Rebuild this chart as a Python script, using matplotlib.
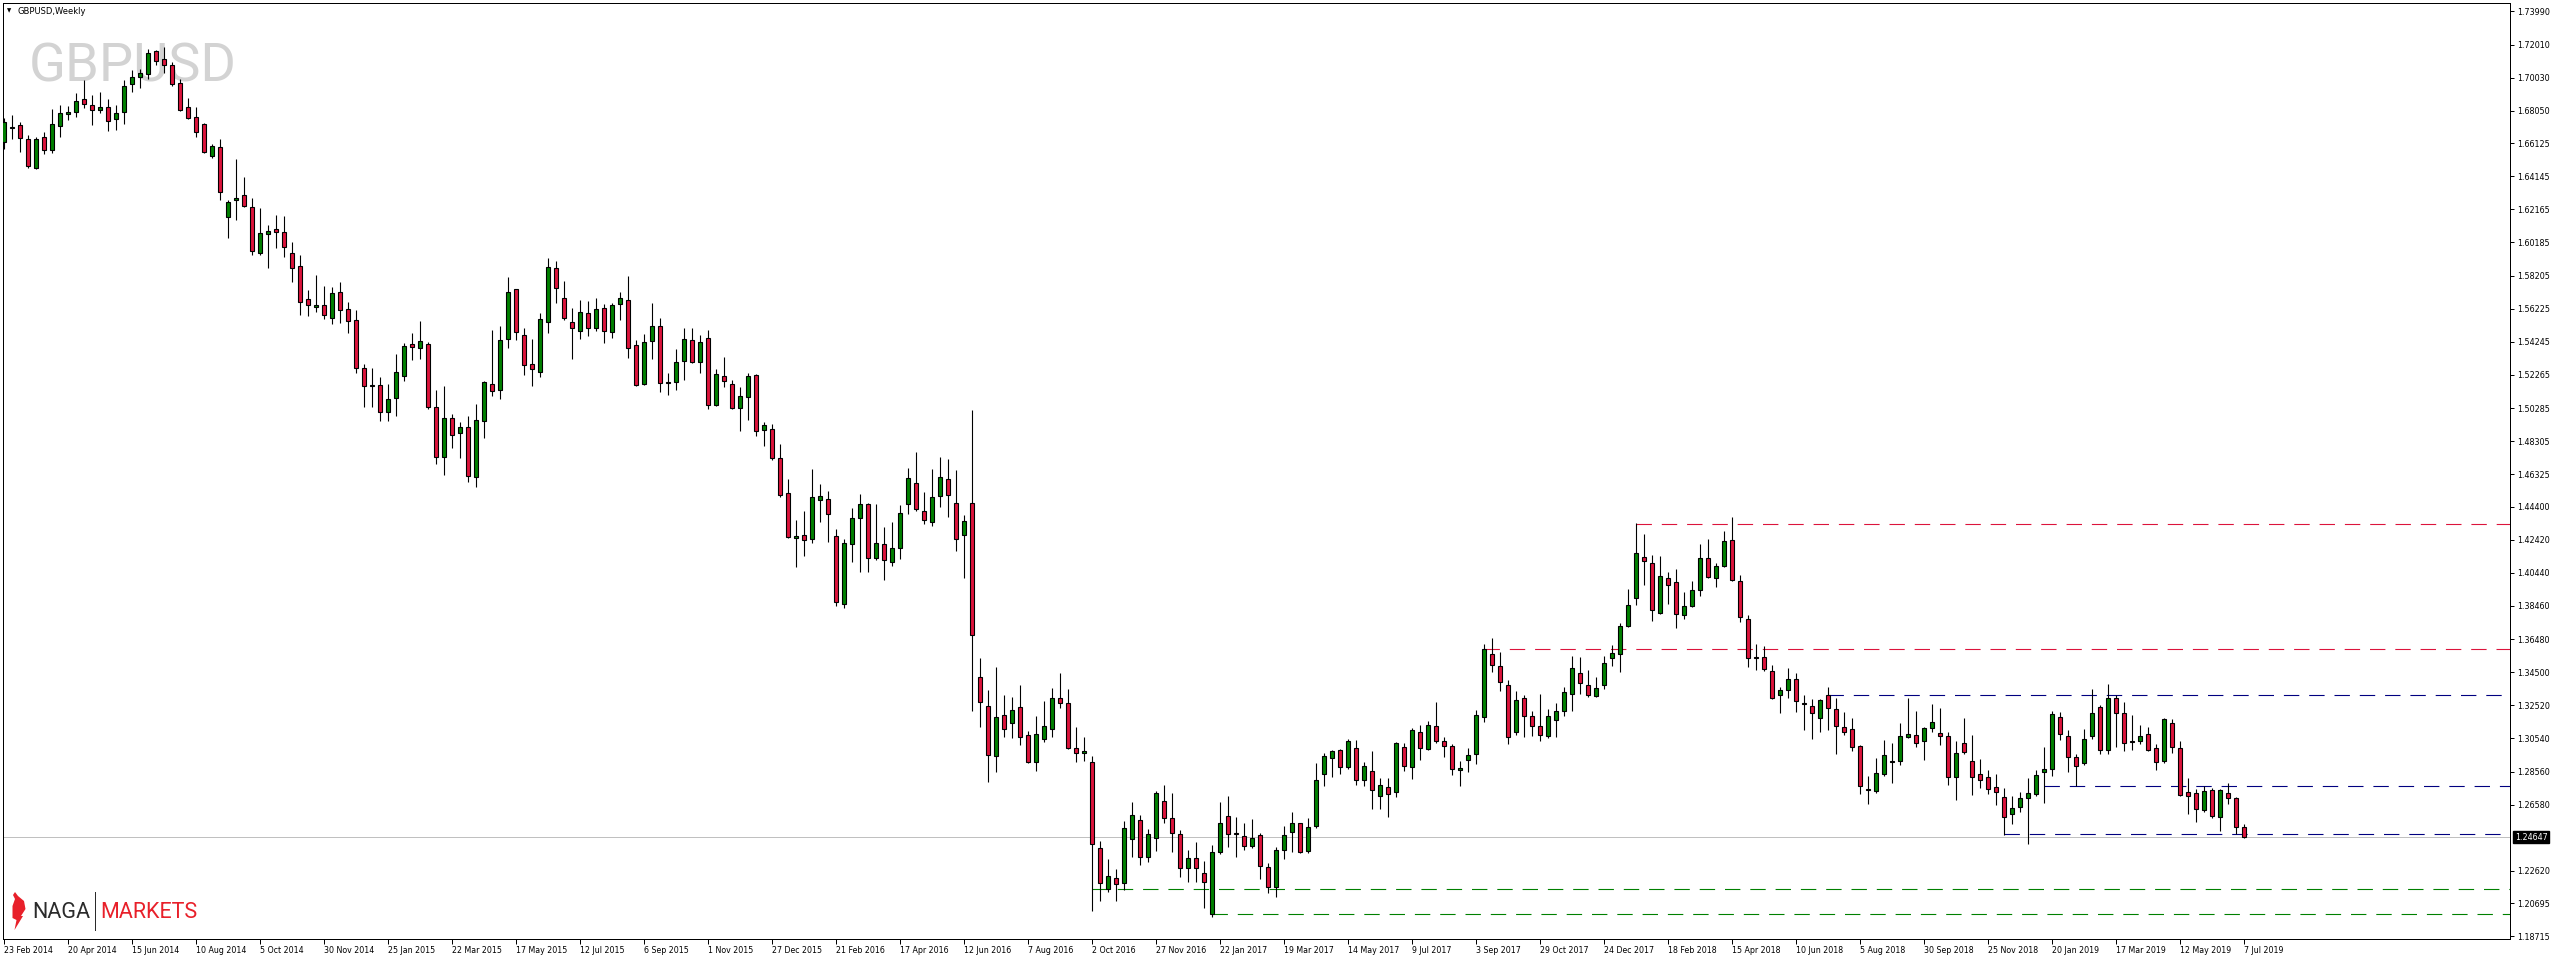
import numpy as np
import matplotlib
matplotlib.use("Agg")
import matplotlib.pyplot as plt
from matplotlib.patches import Polygon

# weekly GBPUSD candles, bar 0 = week of 23 Feb 2014
opens = [
    1.6621, 1.6705, 1.6718, 1.6634, 1.6465, 1.6646, 1.6569, 1.6712, 1.6784, 1.6796,
    1.6874, 1.6838, 1.6808, 1.6826, 1.6758, 1.6796, 1.6963, 1.7005, 1.7023, 1.7160,
    1.7115, 1.7077, 1.6969, 1.6826, 1.6766, 1.6724, 1.6537, 1.6587, 1.6168, 1.6270,
    1.6300, 1.6228, 1.5953, 1.6067, 1.6097, 1.6079, 1.5953, 1.5876, 1.5678, 1.5631,
    1.5643, 1.5565, 1.5720, 1.5619, 1.5553, 1.5265, 1.5160, 1.5168, 1.5005, 1.5087,
    1.5218, 1.5409, 1.5385, 1.5409, 1.5033, 1.4734, 1.4967, 1.4878, 1.4913, 1.4615,
    1.4949, 1.5170, 1.5134, 1.5439, 1.5738, 1.5463, 1.5290, 1.5246, 1.5541, 1.5864,
    1.5684, 1.5541, 1.5487, 1.5595, 1.5505, 1.5625, 1.5481, 1.5648, 1.5672, 1.5403,
    1.5170, 1.5427, 1.5517, 1.5182, 1.5182, 1.5308, 1.5433, 1.5302, 1.5445, 1.5045,
    1.5218, 1.5170, 1.5027, 1.5093, 1.5224, 1.4895, 1.4901, 1.4728, 1.4520, 1.4251,
    1.4268, 1.4245, 1.4477, 1.4484, 1.4262, 1.3856, 1.4215, 1.4373, 1.4454, 1.4134,
    1.4219, 1.4108, 1.4191, 1.4458, 1.4580, 1.4411, 1.4347, 1.4501, 1.4603, 1.4460,
    1.4268, 1.4464, 1.3421, 1.3246, 1.2947, 1.3192, 1.3145, 1.3242, 1.3073, 1.2915,
    1.3049, 1.3111, 1.3297, 1.3265, 1.2998, 1.2966, 1.2911, 1.2399, 1.2153, 1.2219,
    1.2189, 1.2452, 1.2565, 1.2345, 1.2458, 1.2678, 1.2578, 1.2481, 1.2282, 1.2338,
    1.2248, 1.2003, 1.2374, 1.2589, 1.2487, 1.2469, 1.2409, 1.2475, 1.2284, 1.2168,
    1.2386, 1.2493, 1.2547, 1.2380, 1.2529, 1.2840, 1.2935, 1.2983, 1.2882, 1.2995,
    1.2804, 1.2858, 1.2708, 1.2762, 1.2732, 1.3001, 1.2882, 1.3091, 1.2989, 1.3127,
    1.3037, 1.3007, 1.2864, 1.2923, 1.2959, 1.3180, 1.3557, 1.3485, 1.3372, 1.3091,
    1.3294, 1.3186, 1.3127, 1.3067, 1.3163, 1.3216, 1.3318, 1.3443, 1.3372, 1.3306,
    1.3372, 1.3533, 1.3557, 1.3724, 1.3891, 1.4137, 1.4101, 1.3802, 1.4011, 1.3987,
    1.3790, 1.3844, 1.3939, 1.4131, 1.4011, 1.4083, 1.4238, 1.3993, 1.3766, 1.3539,
    1.3539, 1.3455, 1.3312, 1.3342, 1.3407, 1.3264, 1.3246, 1.3174, 1.3312, 1.3228,
    1.3121, 1.3109, 1.3007, 1.2750, 1.2738, 1.2840, 1.2911, 1.2917, 1.3061, 1.3073,
    1.3037, 1.3115, 1.3085, 1.3067, 1.2822, 1.3025, 1.2917, 1.2840, 1.2822, 1.2762,
    1.2702, 1.2601, 1.2642, 1.2696, 1.2720, 1.2852, 1.2870, 1.3180, 1.3067, 1.2941,
    1.2905, 1.3067, 1.3240, 1.2983, 1.3294, 1.3204, 1.3037, 1.3037, 1.3079, 1.2995,
    1.2917, 1.3144, 1.2995, 1.2732, 1.2726, 1.2624, 1.2744, 1.2583, 1.2726, 1.2696,
    1.2523,
]
highs = [
    1.6760, 1.6778, 1.6738, 1.6658, 1.6646, 1.6678, 1.6816, 1.6838, 1.6834, 1.6911,
    1.6989, 1.6899, 1.6919, 1.6874, 1.6840, 1.6989, 1.7049, 1.7053, 1.7172, 1.7168,
    1.7188, 1.7095, 1.6993, 1.6882, 1.6828, 1.6732, 1.6605, 1.6634, 1.6270, 1.6517,
    1.6409, 1.6284, 1.6224, 1.6121, 1.6180, 1.6176, 1.6021, 1.5941, 1.5732, 1.5822,
    1.5756, 1.5750, 1.5780, 1.5662, 1.5613, 1.5290, 1.5270, 1.5215, 1.5170, 1.5352,
    1.5417, 1.5477, 1.5549, 1.5421, 1.5136, 1.5160, 1.4993, 1.4945, 1.4981, 1.5053,
    1.5192, 1.5495, 1.5517, 1.5812, 1.5742, 1.5507, 1.5441, 1.5597, 1.5925, 1.5907,
    1.5788, 1.5627, 1.5674, 1.5668, 1.5686, 1.5650, 1.5656, 1.5722, 1.5818, 1.5433,
    1.5471, 1.5656, 1.5567, 1.5236, 1.5381, 1.5507, 1.5507, 1.5463, 1.5495, 1.5260,
    1.5334, 1.5194, 1.5152, 1.5236, 1.5230, 1.4943, 1.4931, 1.4812, 1.4605, 1.4360,
    1.4413, 1.4665, 1.4573, 1.4531, 1.4304, 1.4244, 1.4434, 1.4516, 1.4464, 1.4454,
    1.4317, 1.4347, 1.4449, 1.4671, 1.4763, 1.4526, 1.4665, 1.4735, 1.4725, 1.4659,
    1.4390, 1.5015, 1.3536, 1.3342, 1.3480, 1.3312, 1.3301, 1.3374, 1.3096, 1.3188,
    1.3278, 1.3357, 1.3446, 1.3350, 1.3124, 1.3060, 1.2949, 1.2443, 1.2335, 1.2273,
    1.2561, 1.2672, 1.2595, 1.2512, 1.2740, 1.2776, 1.2729, 1.2507, 1.2388, 1.2435,
    1.2322, 1.2415, 1.2674, 1.2710, 1.2583, 1.2547, 1.2573, 1.2487, 1.2308, 1.2405,
    1.2531, 1.2615, 1.2551, 1.2579, 1.2907, 1.2965, 1.2983, 1.2989, 1.3049, 1.3045,
    1.2911, 1.2981, 1.2816, 1.2816, 1.3033, 1.3025, 1.3115, 1.3133, 1.3158, 1.3272,
    1.3061, 1.3019, 1.2917, 1.2995, 1.3222, 1.3619, 1.3657, 1.3569, 1.3401, 1.3336,
    1.3312, 1.3216, 1.3318, 1.3228, 1.3264, 1.3360, 1.3545, 1.3539, 1.3461, 1.3420,
    1.3547, 1.3613, 1.3742, 1.3945, 1.4340, 1.4276, 1.4149, 1.4143, 1.4047, 1.4065,
    1.3927, 1.3993, 1.4214, 1.4244, 1.4102, 1.4292, 1.4375, 1.4029, 1.3790, 1.3617,
    1.3605, 1.3491, 1.3360, 1.3473, 1.3443, 1.3312, 1.3288, 1.3288, 1.3360, 1.3294,
    1.3210, 1.3174, 1.3013, 1.2828, 1.2937, 1.3043, 1.3025, 1.3145, 1.3294, 1.3216,
    1.3121, 1.3258, 1.3234, 1.3091, 1.3039, 1.3174, 1.3073, 1.2929, 1.2864, 1.2840,
    1.2756, 1.2708, 1.2732, 1.2816, 1.2864, 1.3001, 1.3216, 1.3210, 1.3103, 1.2959,
    1.3109, 1.3348, 1.3252, 1.3378, 1.3312, 1.3270, 1.3192, 1.3133, 1.3121, 1.3019,
    1.3174, 1.3168, 1.3037, 1.2816, 1.2750, 1.2768, 1.2756, 1.2750, 1.2786, 1.2702,
    1.2541,
]
lows = [
    1.6575, 1.6634, 1.6561, 1.6465, 1.6459, 1.6549, 1.6555, 1.6650, 1.6752, 1.6768,
    1.6824, 1.6722, 1.6794, 1.6686, 1.6692, 1.6728, 1.6919, 1.6943, 1.6997, 1.7077,
    1.7029, 1.6955, 1.6806, 1.6758, 1.6650, 1.6553, 1.6525, 1.6274, 1.6047, 1.6152,
    1.6232, 1.5945, 1.5945, 1.5868, 1.5987, 1.5933, 1.5784, 1.5587, 1.5581, 1.5605,
    1.5563, 1.5533, 1.5539, 1.5479, 1.5240, 1.5035, 1.5035, 1.4952, 1.4950, 1.4983,
    1.5192, 1.5314, 1.5324, 1.5025, 1.4696, 1.4630, 1.4792, 1.4732, 1.4585, 1.4559,
    1.4852, 1.5103, 1.5085, 1.5389, 1.5437, 1.5226, 1.5162, 1.5216, 1.5479, 1.5658,
    1.5553, 1.5324, 1.5443, 1.5459, 1.5487, 1.5419, 1.5449, 1.5557, 1.5330, 1.5158,
    1.5164, 1.5324, 1.5126, 1.5105, 1.5134, 1.5194, 1.5298, 1.5236, 1.5021, 1.5039,
    1.5152, 1.5022, 1.4889, 1.4955, 1.4860, 1.4800, 1.4720, 1.4499, 1.4251, 1.4076,
    1.4146, 1.4225, 1.4349, 1.4230, 1.3848, 1.3831, 1.4110, 1.4050, 1.4050, 1.4119,
    1.4003, 1.4087, 1.4129, 1.4398, 1.4411, 1.4338, 1.4324, 1.4439, 1.4379, 1.4176,
    1.4010, 1.3220, 1.3122, 1.2793, 1.2853, 1.3062, 1.3054, 1.3017, 1.2906, 1.2862,
    1.3030, 1.3060, 1.3237, 1.2994, 1.2911, 1.2917, 1.2025, 1.2085, 1.2134, 1.2081,
    1.2149, 1.2347, 1.2298, 1.2313, 1.2384, 1.2546, 1.2374, 1.2228, 1.2198, 1.2198,
    1.2039, 1.1985, 1.2366, 1.2407, 1.2348, 1.2388, 1.2398, 1.2212, 1.2133, 1.2109,
    1.2336, 1.2378, 1.2368, 1.2368, 1.2517, 1.2772, 1.2826, 1.2844, 1.2874, 1.2774,
    1.2772, 1.2635, 1.2635, 1.2587, 1.2706, 1.2858, 1.2810, 1.2927, 1.2983, 1.3025,
    1.2941, 1.2834, 1.2772, 1.2852, 1.2903, 1.3150, 1.3449, 1.3340, 1.3023, 1.3073,
    1.3065, 1.3067, 1.3037, 1.3055, 1.3061, 1.3186, 1.3220, 1.3318, 1.3300, 1.3304,
    1.3348, 1.3489, 1.3453, 1.3718, 1.3854, 1.3973, 1.3758, 1.3796, 1.3856, 1.3712,
    1.3766, 1.3838, 1.3907, 1.4011, 1.3961, 1.4077, 1.3995, 1.3748, 1.3483, 1.3461,
    1.3455, 1.3288, 1.3204, 1.3294, 1.3210, 1.3103, 1.3049, 1.3091, 1.3103, 1.2959,
    1.3073, 1.2977, 1.2720, 1.2660, 1.2726, 1.2828, 1.2786, 1.2893, 1.3055, 1.3001,
    1.2923, 1.3091, 1.3013, 1.2774, 1.2688, 1.2959, 1.2718, 1.2760, 1.2724, 1.2658,
    1.2475, 1.2545, 1.2613, 1.2421, 1.2708, 1.2666, 1.2828, 1.3043, 1.2852, 1.2768,
    1.2893, 1.3049, 1.2959, 1.2959, 1.3001, 1.2977, 1.2983, 1.3019, 1.2977, 1.2864,
    1.2905, 1.2965, 1.2710, 1.2605, 1.2557, 1.2613, 1.2577, 1.2503, 1.2660, 1.2485,
    1.2457,
]
closes = [
    1.6736, 1.6708, 1.6644, 1.6477, 1.6634, 1.6569, 1.6724, 1.6790, 1.6798, 1.6862,
    1.6844, 1.6808, 1.6826, 1.6742, 1.6790, 1.6951, 1.7005, 1.7029, 1.7148, 1.7101,
    1.7077, 1.6963, 1.6812, 1.6764, 1.6680, 1.6557, 1.6593, 1.6322, 1.6258, 1.6282,
    1.6234, 1.5965, 1.6073, 1.6085, 1.6079, 1.5989, 1.5864, 1.5661, 1.5643, 1.5643,
    1.5583, 1.5714, 1.5613, 1.5551, 1.5265, 1.5160, 1.5168, 1.5005, 1.5085, 1.5242,
    1.5397, 1.5391, 1.5427, 1.5033, 1.4734, 1.4967, 1.4866, 1.4913, 1.4625, 1.4955,
    1.5182, 1.5128, 1.5433, 1.5720, 1.5481, 1.5284, 1.5260, 1.5559, 1.5870, 1.5744,
    1.5569, 1.5505, 1.5601, 1.5505, 1.5619, 1.5487, 1.5642, 1.5684, 1.5385, 1.5164,
    1.5421, 1.5517, 1.5176, 1.5176, 1.5302, 1.5439, 1.5302, 1.5421, 1.5045, 1.5230,
    1.5188, 1.5027, 1.5099, 1.5218, 1.4889, 1.4925, 1.4728, 1.4507, 1.4257, 1.4262,
    1.4238, 1.4496, 1.4501, 1.4394, 1.3867, 1.4225, 1.4373, 1.4454, 1.4134, 1.4225,
    1.4119, 1.4195, 1.4400, 1.4609, 1.4424, 1.4358, 1.4496, 1.4616, 1.4507, 1.4245,
    1.4351, 1.3670, 1.3271, 1.2953, 1.3182, 1.3111, 1.3222, 1.3062, 1.2915, 1.3079,
    1.3126, 1.3297, 1.3263, 1.3000, 1.2966, 1.2977, 1.2426, 1.2189, 1.2230, 1.2187,
    1.2518, 1.2595, 1.2345, 1.2482, 1.2729, 1.2580, 1.2490, 1.2282, 1.2338, 1.2282,
    1.2198, 1.2374, 1.2547, 1.2481, 1.2481, 1.2409, 1.2457, 1.2294, 1.2168, 1.2386,
    1.2475, 1.2547, 1.2374, 1.2523, 1.2804, 1.2947, 1.2977, 1.2882, 1.3037, 1.2804,
    1.2888, 1.2744, 1.2774, 1.2720, 1.3025, 1.2888, 1.3103, 1.2995, 1.3133, 1.3037,
    1.3007, 1.2870, 1.2876, 1.2953, 1.3192, 1.3587, 1.3491, 1.3393, 1.3065, 1.3282,
    1.3186, 1.3127, 1.3073, 1.3186, 1.3216, 1.3330, 1.3473, 1.3384, 1.3312, 1.3354,
    1.3503, 1.3563, 1.3724, 1.3850, 1.4160, 1.4113, 1.3820, 1.4023, 1.3969, 1.3796,
    1.3844, 1.3939, 1.4131, 1.4017, 1.4083, 1.4232, 1.3999, 1.3778, 1.3533, 1.3533,
    1.3467, 1.3294, 1.3342, 1.3407, 1.3276, 1.3258, 1.3204, 1.3282, 1.3234, 1.3127,
    1.3091, 1.3001, 1.2768, 1.2744, 1.2846, 1.2953, 1.2917, 1.3067, 1.3079, 1.3025,
    1.3115, 1.3150, 1.3067, 1.2822, 1.2965, 1.2971, 1.2822, 1.2804, 1.2750, 1.2732,
    1.2583, 1.2636, 1.2696, 1.2726, 1.2834, 1.2870, 1.3198, 1.3079, 1.2941, 1.2887,
    1.3049, 1.3204, 1.2983, 1.3294, 1.3204, 1.3025, 1.3031, 1.3067, 1.2983, 1.2911,
    1.3168, 1.3001, 1.2714, 1.2708, 1.2630, 1.2738, 1.2589, 1.2744, 1.2696, 1.2523,
    1.24647,
]

# date labels, one every 8 bars
date_labels = [
    "23 Feb 2014", "20 Apr 2014", "15 Jun 2014", "10 Aug 2014", "5 Oct 2014",
    "30 Nov 2014", "25 Jan 2015", "22 Mar 2015", "17 May 2015", "12 Jul 2015",
    "6 Sep 2015", "1 Nov 2015", "27 Dec 2015", "21 Feb 2016", "17 Apr 2016",
    "12 Jun 2016", "7 Aug 2016", "2 Oct 2016", "27 Nov 2016", "22 Jan 2017",
    "19 Mar 2017", "14 May 2017", "9 Jul 2017", "3 Sep 2017", "29 Oct 2017",
    "24 Dec 2017", "18 Feb 2018", "15 Apr 2018", "10 Jun 2018", "5 Aug 2018",
    "30 Sep 2018", "25 Nov 2018", "20 Jan 2019", "17 Mar 2019", "12 May 2019",
    "7 Jul 2019",
]
price_ticks = [
    1.73990, 1.72010, 1.70030, 1.68050, 1.66125, 1.64145, 1.62165, 1.60185,
    1.58205, 1.56225, 1.54245, 1.52265, 1.50285, 1.48305, 1.46325, 1.44400,
    1.42420, 1.40440, 1.38460, 1.36480, 1.34500, 1.32520, 1.30540, 1.28560,
    1.26580, 1.22620, 1.20695, 1.18715,
]

# support / resistance levels drawn on the chart
level_prices = [1.4334, 1.3587, 1.3313, 1.2768, 1.2481, 1.2153, 1.2003]
level_start = [204, 185, 228, 255, 250, 136, 151]
level_colors = ["#dc143c", "#dc143c", "#000080", "#000080", "#000080", "#008000", "#008000"]
bid = 1.24647

W, H = 2556, 960
PX = 0.72  # one pixel in points at dpi 100

def fx(x):
    return x / W

def fy(y):
    return 1 - y / H

fig = plt.figure(figsize=(W / 100, H / 100), dpi=100)
fig.patch.set_facecolor("white")
ax = fig.add_axes([fx(2.7), fy(939), (2510 - 2.7) / W, (939 - 2.7) / H])

n = len(opens)
x = np.arange(n)
o = np.array(opens)
c = np.array(closes)
up = c >= o

# candles
ax.vlines(x, lows, highs, color="black", lw=1.1 * PX, zorder=3)
ax.bar(x, np.abs(c - o), bottom=np.minimum(o, c), width=0.47,
       color=np.where(up, "#008000", "#dc143c"), edgecolor="black",
       linewidth=1.1 * PX, zorder=4)

xmax = 313.29
# bid line
ax.axhline(bid, color="#c0c0c0", lw=1 * PX, zorder=1)
# dashed levels
for p, s, col in zip(level_prices, level_start, level_colors):
    ax.plot([s, xmax], [p, p], color=col, lw=1.1 * PX, ls=(0, (14, 9)), zorder=2)

ax.set_xlim(-0.125, xmax)
ax.set_ylim(1.18556, 1.74510)

for sp in ax.spines.values():
    sp.set_color("black")
    sp.set_linewidth(1 * PX)

ax.yaxis.tick_right()
ax.set_yticks(price_ticks)
ax.set_yticklabels(["%.5f" % v for v in price_ticks])
ax.tick_params(axis="y", direction="out", length=3, width=PX, labelsize=5.8, pad=2)

ax.set_xticks(np.arange(0, n, 8))
ax.set_xticklabels(date_labels)
for lbl in ax.get_xticklabels():
    lbl.set_horizontalalignment("left")
ax.tick_params(axis="x", direction="out", length=3.5, width=PX, labelsize=5.7, pad=1.5)

# current price box
ax.annotate("%.5f" % bid, xy=(1, bid), xycoords=("axes fraction", "data"),
            xytext=(3.5, 0), textcoords="offset points", va="center", ha="left",
            fontsize=5.8, color="white",
            bbox=dict(boxstyle="square,pad=0.2", fc="black", ec="black"))

# watermark and title
ax.text(fx(29), fy(82), "GBPUSD", transform=fig.transFigure, fontsize=39,
        family="Roboto", color="#d3d3d3", va="baseline", ha="left", zorder=0)
fig.text(fx(6.5), fy(11), "\u25bc", fontsize=4, va="center", ha="left", color="black")
fig.text(fx(17), fy(11), "GBPUSD,Weekly", fontsize=6, va="center", ha="left", color="black")

# NAGA MARKETS logo
flame = [(15, 892), (18, 896), (24, 901), (25.5, 909), (21, 916), (23, 916),
         (14.5, 930), (16.5, 920), (12.5, 918), (12.5, 906), (15, 899), (13, 895)]
fig.patches.append(Polygon([(fx(a), fy(b)) for a, b in flame], closed=True,
                           transform=fig.transFigure, fc="#e8202a", ec="none"))
fig.text(fx(32), fy(918.5), "NAGA", fontsize=15.5, family="Roboto",
         color="#2b2b2b", va="baseline", ha="left")
fig.add_artist(plt.Line2D([fx(94.5), fx(94.5)], [fy(892), fy(930)],
                          transform=fig.transFigure, color="#2b2b2b", lw=PX))
fig.text(fx(100), fy(918.5), "MARKETS", fontsize=15.5, family="Roboto",
         color="#e8202a", va="baseline", ha="left")

fig.savefig("out.png", dpi=100, facecolor="white")
